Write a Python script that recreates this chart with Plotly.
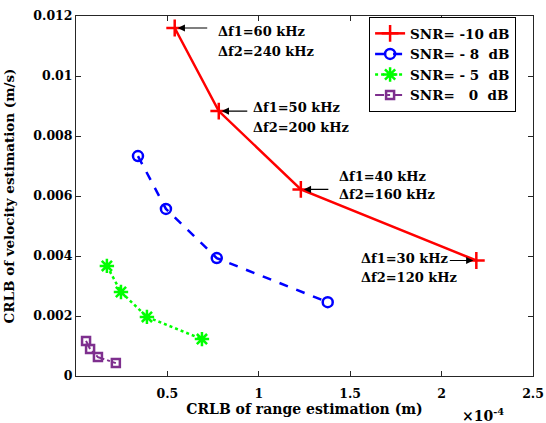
import plotly.graph_objects as go

# Data (x in metres, y in m/s)
red_x = [0.540e-4, 0.781e-4, 1.230e-4, 2.190e-4]
red_y = [0.01160, 0.00883, 0.00622, 0.00385]
blue_x = [0.339e-4, 0.492e-4, 0.770e-4, 1.377e-4]
blue_y = [0.00733, 0.00557, 0.00393, 0.00246]
green_x = [0.169e-4, 0.246e-4, 0.388e-4, 0.689e-4]
green_y = [0.00367, 0.00280, 0.00197, 0.00123]
purple_x = [0.055e-4, 0.077e-4, 0.120e-4, 0.218e-4]
purple_y = [0.00117, 0.00090, 0.00063, 0.00043]

names = ["SNR= -10 dB", "SNR= -\u00a08\u00a0\u00a0dB", "SNR= -\u00a05\u00a0\u00a0dB", "SNR=\u00a0\u00a0\u00a00\u00a0\u00a0dB"]
labels_f1 = ["\u0394f1=60 kHz", "\u0394f1=50 kHz", "\u0394f1=40 kHz", "\u0394f1=30 kHz"]
labels_f2 = ["\u0394f2=240 kHz", "\u0394f2=200 kHz", "\u0394f2=160 kHz", "\u0394f2=120 kHz"]

xticks = [0.5e-4, 1.0e-4, 1.5e-4, 2.0e-4, 2.5e-4]
xticktext = ["0.5", "1", "1.5", "2", "2.5"]
yticks = [0, 0.002, 0.004, 0.006, 0.008, 0.010, 0.012]
yticktext = ["0", "0.002", "0.004", "0.006", "0.008", "0.01", "0.012"]

FONT = "DejaVu Serif"

fig = go.Figure()
fig.add_trace(go.Scatter(x=red_x, y=red_y, mode="lines+markers", name=names[0],
                         line=dict(color="#FF0000", width=2.5),
                         marker=dict(symbol="cross-thin-open", size=12, line=dict(color="#FF0000", width=2.5))))
fig.add_trace(go.Scatter(x=blue_x, y=blue_y, mode="lines+markers", name=names[1],
                         line=dict(color="#0000FF", width=2.5, dash="dash"),
                         marker=dict(symbol="circle-open", size=10, line=dict(color="#0000FF", width=2.5))))
fig.add_trace(go.Scatter(x=green_x, y=green_y, mode="lines+markers", name=names[2],
                         line=dict(color="#00FF00", width=2.5, dash="dot"),
                         marker=dict(symbol="asterisk-open", size=12, line=dict(color="#00FF00", width=2.5))))
fig.add_trace(go.Scatter(x=purple_x, y=purple_y, mode="lines+markers", name=names[3],
                         line=dict(color="#7E2F8E", width=2, dash="dashdot"),
                         marker=dict(symbol="square-open", size=8, line=dict(color="#7E2F8E", width=2.5))))

# pixel offsets of the two text lines relative to each red point
text_xshift = [41, 32, 36, -117]
text_yshift = [(-3, -23), (4, -16), (13, -5), (2, -17)]
arrow_tails = [(34, 0), (30, 0), (29, 0), (-28, 0)]
for i in range(4):
    for line_text, ys in zip((labels_f1[i], labels_f2[i]), text_yshift[i]):
        fig.add_annotation(x=red_x[i], y=red_y[i], xref="x", yref="y", text=line_text,
                           showarrow=False, xanchor="left", yanchor="middle", align="left",
                           xshift=text_xshift[i], yshift=ys,
                           font=dict(family=FONT, size=13, color="black", weight="bold"))
    ax, ay = arrow_tails[i]
    fig.add_annotation(x=red_x[i], y=red_y[i], xref="x", yref="y", text="",
                       showarrow=True, ax=ax, ay=ay, arrowhead=2, arrowsize=1.2,
                       arrowwidth=1.2, arrowcolor="black", standoff=3)

fig.add_annotation(x=1.0, y=0, xref="paper", yref="paper", text="\u00d710<sup>-4</sup>",
                   showarrow=False, xanchor="right", yanchor="top", xshift=-27, yshift=-28,
                   font=dict(family=FONT, size=14, color="black", weight="bold"))

axis_common = dict(showline=True, linecolor="#262626", linewidth=1, mirror="ticks",
                   ticks="inside", ticklen=5, tickcolor="#262626", showgrid=False, zeroline=False,
                   automargin=False,
                   tickfont=dict(family=FONT, size=12.5, color="black", weight="bold"))

fig.update_xaxes(range=[0, 2.5e-4], tickvals=xticks, ticktext=xticktext, ticklabelstandoff=6,
                 title=dict(text="CRLB of range estimation (m)", standoff=0,
                            font=dict(family=FONT, size=14, color="black", weight="bold")),
                 **axis_common)
fig.update_yaxes(range=[0, 0.012], tickvals=yticks, ticktext=yticktext,
                 title=dict(text="CRLB of velocity estimation (m/s)",
                            font=dict(family=FONT, size=13.5, color="black", weight="bold")),
                 **axis_common)

fig.update_layout(width=546, height=423, margin=dict(l=76, r=13, t=16, b=47),
                  paper_bgcolor="white", plot_bgcolor="white",
                  legend=dict(x=0.963, y=0.997, xanchor="right", yanchor="top",
                              bgcolor="white", bordercolor="black", borderwidth=1,
                              tracegroupgap=0, itemwidth=30,
                              font=dict(family=FONT, size=13.5, color="black", weight="bold")))

fig.write_html("out.html")
